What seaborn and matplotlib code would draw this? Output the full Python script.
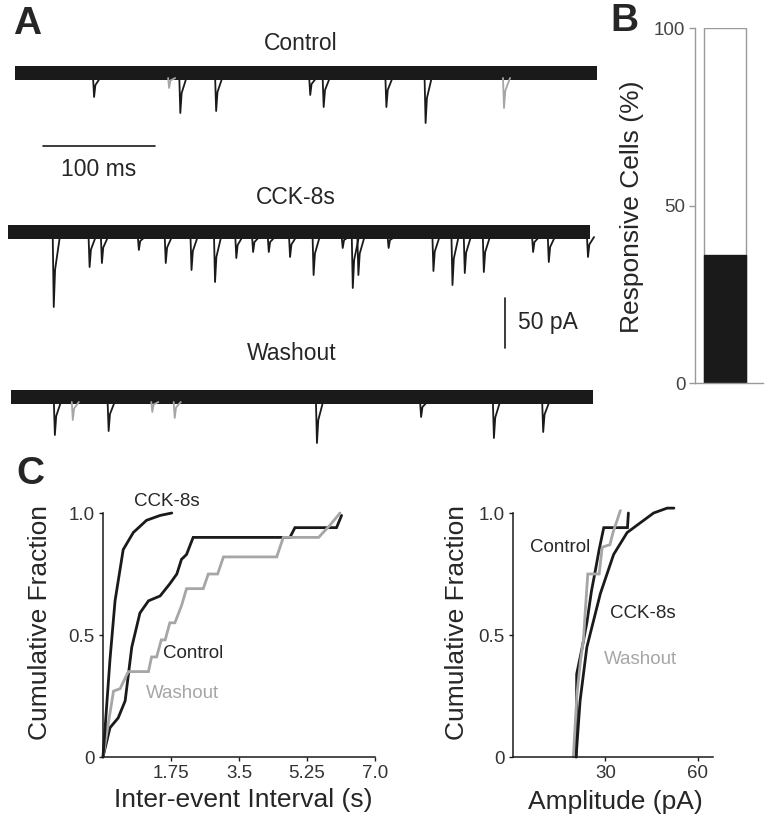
import matplotlib
matplotlib.use('Agg')
import matplotlib.pyplot as plt
import pandas as pd
import seaborn as sns

# ---- panel A: spontaneous events (ms, pA) ----
ctrl_span = [0, 520]
ctrl_t = [70, 147, 179, 263, 275, 331, 366]
ctrl_amp = [24, 40, 38, 22, 34, 34, 50]
ctrl_gray_t = [137, 436]
ctrl_gray_amp = [15, 35]

cck_span = [-6, 513]
cck_t = [34, 66, 77, 110, 134, 157, 178, 197, 212, 226, 245, 266, 292,
         301, 306, 333, 373, 390, 401, 418, 462, 476, 511]
cck_amp = [75, 35, 31, 18, 31, 38, 50, 26, 20, 20, 25, 43, 16,
           56, 43, 16, 39, 53, 41, 40, 20, 30, 25]

wash_span = [-4, 516]
wash_t = [35, 83, 269, 362, 427, 471]
wash_amp = [38, 34, 46, 20, 41, 35]
wash_gray_t = [51, 122, 142]
wash_gray_amp = [23, 15, 21]

# ---- panel B ----
responsive_pct = 36
total_pct = 100

# ---- panel C: cumulative distributions ----
iei_ctrl_x = [0, 0.18, 0.39, 0.57, 0.74, 0.95, 1.17, 1.47, 1.72, 1.90, 2.02, 2.15, 2.32,
              4.81, 4.94, 6.01, 6.14]
iei_ctrl_y = [0, 0.12, 0.16, 0.23, 0.45, 0.59, 0.64, 0.66, 0.71, 0.75, 0.81, 0.83, 0.90,
              0.90, 0.94, 0.94, 0.99]
iei_cck_x = [0, 0.18, 0.31, 0.52, 0.78, 1.12, 1.47, 1.77]
iei_cck_y = [0, 0.40, 0.64, 0.85, 0.92, 0.97, 0.99, 1.0]
iei_wash_x = [0, 0.27, 0.44, 0.65, 1.17, 1.25, 1.38, 1.50, 1.60, 1.72, 1.85, 2.02, 2.15,
              2.58, 2.71, 2.95, 3.10, 4.47, 4.64, 5.55, 5.84, 6.10]
iei_wash_y = [0, 0.27, 0.28, 0.35, 0.35, 0.41, 0.41, 0.48, 0.48, 0.55, 0.55, 0.62, 0.69,
              0.69, 0.75, 0.75, 0.82, 0.82, 0.90, 0.90, 0.95, 1.0]

amp_ctrl_x = [20.5, 20.7, 22.5, 24.0, 25.5, 26.7, 28.0, 29.5, 33.7, 37.2, 37.5]
amp_ctrl_y = [0, 0.34, 0.45, 0.55, 0.68, 0.76, 0.85, 0.94, 0.94, 0.94, 1.0]
amp_cck_x = [20.5, 21.8, 24.0, 28.4, 32.7, 37.1, 41.4, 45.7, 50.1, 52.3]
amp_cck_y = [0, 0.23, 0.45, 0.67, 0.83, 0.92, 0.96, 1.0, 1.02, 1.02]
amp_wash_x = [19.6, 20.8, 22.0, 22.9, 23.5, 24.3, 28.0, 29.0, 31.5, 32.5, 34.9]
amp_wash_y = [0, 0.26, 0.40, 0.48, 0.60, 0.75, 0.75, 0.86, 0.87, 0.92, 1.01]

BLACK = '#1a1a1a'
GRAY = '#a6a6a6'
W, H = 772, 826

sns.set_style('white')
plt.rcParams['font.family'] = ['Liberation Sans', 'DejaVu Sans']

fig = plt.figure(figsize=(W / 100, H / 100), dpi=100)


def put(px, py, s, **kw):
    kw.setdefault('ha', 'center')
    kw.setdefault('va', 'center')
    fig.text(px / W, 1 - py / H, s, **kw)


# ---------------- A ----------------
axA = fig.add_axes([0, 1 - 460 / H, 600 / W, 460 / H])
axA.set_xlim(-15 / 1.12, 585 / 1.12)
axA.set_ylim(-460, 0)
axA.axis('off')


def draw_trace(span, base, ts, amps, gts, gamps):
    axA.fill_between(span, base - 7, base + 7, color=BLACK, lw=0)
    for t, a in zip(gts, gamps):
        axA.plot([t - 0.3, t + 0.6, t + 1.8, t + 6], [base - 5, base - a, base - a * 0.5, base - 5],
                 color=GRAY, lw=1.3)
    for t, a in zip(ts, amps):
        axA.plot([t - 0.3, t + 0.6, t + 1.8, t + 6], [base - 5, base - a, base - a * 0.5, base - 5],
                 color=BLACK, lw=1.3)


draw_trace(ctrl_span, -73, ctrl_t, ctrl_amp, ctrl_gray_t, ctrl_gray_amp)
draw_trace(cck_span, -232, cck_t, cck_amp, [], [])
draw_trace(wash_span, -397, wash_t, wash_amp, wash_gray_t, wash_gray_amp)

# scale bars
axA.plot([25, 125], [-146, -146], color=BLACK, lw=1.2)
axA.plot([437.5, 437.5], [-348, -298], color=BLACK, lw=1.2)

put(301, 43, 'Control', fontsize=16.5)
put(296, 198, 'CCK-8s', fontsize=16.5)
put(292, 354, 'Washout', fontsize=16.5)
put(99, 170, '100 ms', fontsize=16.5)
put(518, 323, '50 pA', fontsize=16.5, ha='left')

# ---------------- B ----------------
axB = fig.add_axes([695 / W, 1 - 383 / H, 68 / W, 355 / H])
sns.barplot(x=['cells'], y=[total_pct], color='white', edgecolor='#999999',
            linewidth=1, saturation=1, width=0.8, ax=axB)
sns.barplot(x=['cells'], y=[responsive_pct], color=BLACK, edgecolor=BLACK,
            linewidth=1, saturation=1, width=0.8, ax=axB)
axB.set_xlim(-0.571, 0.724)
axB.set_ylim(0, 100)
axB.set_yticks([0, 50, 100])
axB.set_xticks([])
axB.set_xlabel('')
axB.set_ylabel('')
sns.despine(ax=axB)
for s in ['left', 'bottom']:
    axB.spines[s].set_color('#999999')
    axB.spines[s].set_linewidth(1)
axB.tick_params(axis='y', length=4, width=1, color='#999999', labelcolor='#444444',
                labelsize=13.5, pad=3, left=True)
put(632, 207, 'Responsive Cells (%)', fontsize=19, rotation=90)

# ---------------- C ----------------
axC1 = fig.add_axes([103 / W, 1 - 757 / H, 272 / W, 244 * 1.05 / H])
axC2 = fig.add_axes([513 / W, 1 - 757 / H, 200 / W, 244 * 1.05 / H])

iei = pd.concat([
    pd.DataFrame({'x': iei_ctrl_x, 'y': iei_ctrl_y, 'cond': 'Control'}),
    pd.DataFrame({'x': iei_wash_x, 'y': iei_wash_y, 'cond': 'Washout'}),
    pd.DataFrame({'x': iei_cck_x, 'y': iei_cck_y, 'cond': 'CCK-8s'}),
])
amp = pd.concat([
    pd.DataFrame({'x': amp_ctrl_x, 'y': amp_ctrl_y, 'cond': 'Control'}),
    pd.DataFrame({'x': amp_cck_x, 'y': amp_cck_y, 'cond': 'CCK-8s'}),
    pd.DataFrame({'x': amp_wash_x, 'y': amp_wash_y, 'cond': 'Washout'}),
])
pal = {'Control': BLACK, 'CCK-8s': BLACK, 'Washout': GRAY}

for ax, df, xmax, xt, xtl in [
        (axC1, iei, 7.0, [1.75, 3.5, 5.25, 7.0], ['1.75', '3.5', '5.25', '7.0']),
        (axC2, amp, 65, [30, 60], ['30', '60'])]:
    sns.lineplot(data=df, x='x', y='y', hue='cond', palette=pal, estimator=None,
                 sort=False, lw=2, legend=False, ax=ax)
    for ln in ax.lines:
        ln.set_clip_on(False)
        ln.set_solid_joinstyle('miter')
    ax.set_xlim(0, xmax)
    ax.set_ylim(0, 1.05)
    ax.set_xticks(xt)
    ax.set_xticklabels(xtl)
    ax.set_yticks([0, 0.5, 1.0])
    ax.set_yticklabels(['0', '0.5', '1.0'])
    ax.set_xlabel('')
    ax.set_ylabel('')
    sns.despine(ax=ax)
    ax.spines['left'].set_bounds(0, 1.0)
    for s in ['left', 'bottom']:
        ax.spines[s].set_color(BLACK)
        ax.spines[s].set_linewidth(1.1)
    ax.tick_params(length=3, width=1, color=BLACK, labelcolor='#333333', labelsize=13.5,
                   pad=3, left=True, bottom=True)

put(30, 474, 'C', fontsize=28, fontweight='bold')
put(40, 623, 'Cumulative Fraction', fontsize=19, rotation=90)
put(457, 623, 'Cumulative Fraction', fontsize=19, rotation=90)
put(243, 800, 'Inter-event Interval (s)', fontsize=19)
put(615, 802, 'Amplitude (pA)', fontsize=19)

put(167, 501, 'CCK-8s', fontsize=13.5)
put(193, 653, 'Control', fontsize=13.5)
put(182, 693, 'Washout', fontsize=13.5, color=GRAY)
put(560, 547, 'Control', fontsize=13.5)
put(643, 614, 'CCK-8s', fontsize=13.5)
put(640, 659, 'Washout', fontsize=13.5, color=GRAY)

put(27, 24, 'A', fontsize=28, fontweight='bold')
put(624, 21, 'B', fontsize=28, fontweight='bold')

fig.savefig('out.png', dpi=100)
